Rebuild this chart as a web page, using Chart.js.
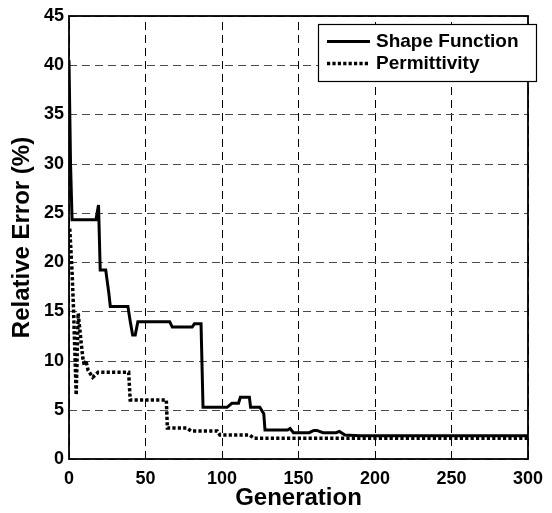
<!DOCTYPE html>
<html>
<head>
<meta charset="utf-8">
<script src="https://cdn.jsdelivr.net/npm/chart.js@4"></script>
<style>
  html, body { margin: 0; padding: 0; background: #fff; }
  #wrap { width: 552px; height: 513px; }
</style>
</head>
<body>
<div id="wrap"><canvas id="c" width="552" height="513"></canvas></div>
<script>
// ---- data ----
const seriesNames = ["Shape Function", "Permittivity"];
const xTicks = [0, 50, 100, 150, 200, 250, 300];
const yTicks = [0, 5, 10, 15, 20, 25, 30, 35, 40, 45];

const shapeX = [0, 1, 2, 17.6, 19.3, 20.4, 24, 26, 27, 38.5, 40, 41.6, 43.3, 45, 65.8, 67.5, 80.5, 82, 86.3, 87.6, 103.3, 106.5, 110.8, 112, 117.9, 118.7, 124.7, 127.3, 128.1, 142.9, 144.5, 146.7, 157, 160, 162, 166, 174.6, 176.7, 180.4, 190, 300];
const shapeY = [40.5, 30, 24.3, 24.3, 25.8, 19.2, 19.2, 16.9, 15.5, 15.5, 14.0, 12.6, 12.6, 13.95, 13.95, 13.4, 13.4, 13.75, 13.75, 5.25, 5.25, 5.66, 5.66, 6.27, 6.27, 5.25, 5.25, 4.6, 2.95, 2.95, 3.1, 2.67, 2.67, 2.9, 2.9, 2.67, 2.67, 2.8, 2.44, 2.35, 2.35];

const permX = [0.5, 2, 3, 4.7, 6, 7.5, 9, 10, 11, 12.5, 15.5, 19, 39, 40, 63.6, 64.3, 77, 79.7, 96.9, 98.6, 117.9, 121, 300];
const permY = [23.4, 19, 15, 6.5, 14.8, 12.5, 10.3, 9.5, 10, 9, 8.3, 8.8, 8.8, 6.0, 6.0, 3.15, 3.15, 2.85, 2.85, 2.45, 2.45, 2.1, 2.1];

const FONT = "'Liberation Sans', Arial, Helvetica, sans-serif";

const toPts = (xs, ys) => xs.map((x, i) => ({ x: x, y: ys[i] }));

// dashed grid drawn from the chart's own scales
const dashedGridPlugin = {
  id: 'dashedGrid',
  beforeDatasetsDraw(chart) {
    const ctx = chart.ctx;
    const a = chart.chartArea;
    const xs = chart.scales.x, ys = chart.scales.y;
    ctx.save();
    ctx.lineWidth = 1;
    ctx.setLineDash([8, 5]);
    ctx.strokeStyle = '#000';
    xTicks.forEach(v => {
      const px = Math.round(xs.getPixelForValue(v)) + 0.5;
      ctx.beginPath();
      ctx.moveTo(px, a.bottom);
      ctx.lineTo(px, a.top);
      ctx.stroke();
    });
    ctx.strokeStyle = '#4a4a4a';
    yTicks.forEach(v => {
      const py = Math.round(ys.getPixelForValue(v)) + 0.5;
      ctx.beginPath();
      ctx.moveTo(a.left, py);
      ctx.lineTo(a.right, py);
      ctx.stroke();
    });
    ctx.restore();
  }
};

const frameLegendPlugin = {
  id: 'frameLegend',
  afterDatasetsDraw(chart) {
    const ctx = chart.ctx;
    const a = chart.chartArea;
    ctx.save();
    // plot frame
    ctx.strokeStyle = '#000';
    ctx.lineWidth = 1.8;
    ctx.setLineDash([]);
    ctx.strokeRect(a.left, a.top, a.right - a.left, a.bottom - a.top);
    // legend box
    const bx = 318, by = 24, bw = 218, bh = 57;
    ctx.fillStyle = '#fff';
    ctx.fillRect(bx, by, bw, bh);
    ctx.lineWidth = 1.2;
    ctx.strokeRect(bx + 0.5, by + 0.5, bw, bh);
    const rows = [41.5, 63.5];
    chart.data.datasets.forEach((ds, i) => {
      const y = rows[i];
      ctx.beginPath();
      ctx.strokeStyle = ds.borderColor;
      ctx.lineWidth = ds.borderWidth;
      ctx.setLineDash(ds.borderDash || []);
      ctx.moveTo(327, y);
      ctx.lineTo(370, y);
      ctx.stroke();
      ctx.setLineDash([]);
      ctx.fillStyle = '#000';
      ctx.font = 'bold 19px ' + FONT;
      ctx.textBaseline = 'middle';
      ctx.textAlign = 'left';
      ctx.fillText(ds.label, 376, y);
    });
    ctx.restore();
  }
};

new Chart(document.getElementById('c'), {
  type: 'line',
  data: {
    datasets: [
      {
        label: seriesNames[0],
        data: toPts(shapeX, shapeY),
        borderColor: '#000',
        borderWidth: 3,
        pointRadius: 0,
        tension: 0,
        fill: false
      },
      {
        label: seriesNames[1],
        data: toPts(permX, permY),
        borderColor: '#000',
        borderWidth: 3.5,
        borderDash: [3.2, 2.2],
        pointRadius: 0,
        tension: 0,
        fill: false
      }
    ]
  },
  options: {
    responsive: false,
    animation: false,
    devicePixelRatio: 1,
    layout: { padding: { left: 0, right: 16, top: 16, bottom: 0 } },
    plugins: {
      legend: { display: false },
      tooltip: { enabled: false }
    },
    scales: {
      x: {
        type: 'linear',
        min: 0,
        max: 300,
        afterBuildTicks: (s) => { s.ticks = xTicks.map(v => ({ value: v })); },
        afterFit: (s) => { s.height = 54; },
        border: { display: false },
        grid: { display: false, drawTicks: false },
        ticks: {
          padding: 9,
          color: '#000',
          font: { family: FONT, size: 18, weight: 'bold' }
        },
        title: {
          display: true,
          text: 'Generation',
          color: '#000',
          padding: { top: 7, bottom: 0 },
          font: { family: FONT, size: 24, weight: 'bold' }
        }
      },
      y: {
        type: 'linear',
        min: 0,
        max: 45,
        afterBuildTicks: (s) => { s.ticks = yTicks.map(v => ({ value: v })); },
        afterFit: (s) => { s.width = 69; },
        border: { display: false },
        grid: { display: false, drawTicks: false },
        ticks: {
          padding: 5,
          color: '#000',
          font: { family: FONT, size: 18, weight: 'bold' }
        },
        title: {
          display: true,
          text: 'Relative Error (%)',
          color: '#000',
          padding: { top: 8, bottom: 0 },
          font: { family: FONT, size: 24, weight: 'bold' }
        }
      }
    }
  },
  plugins: [dashedGridPlugin, frameLegendPlugin]
});
</script>
</body>
</html>
